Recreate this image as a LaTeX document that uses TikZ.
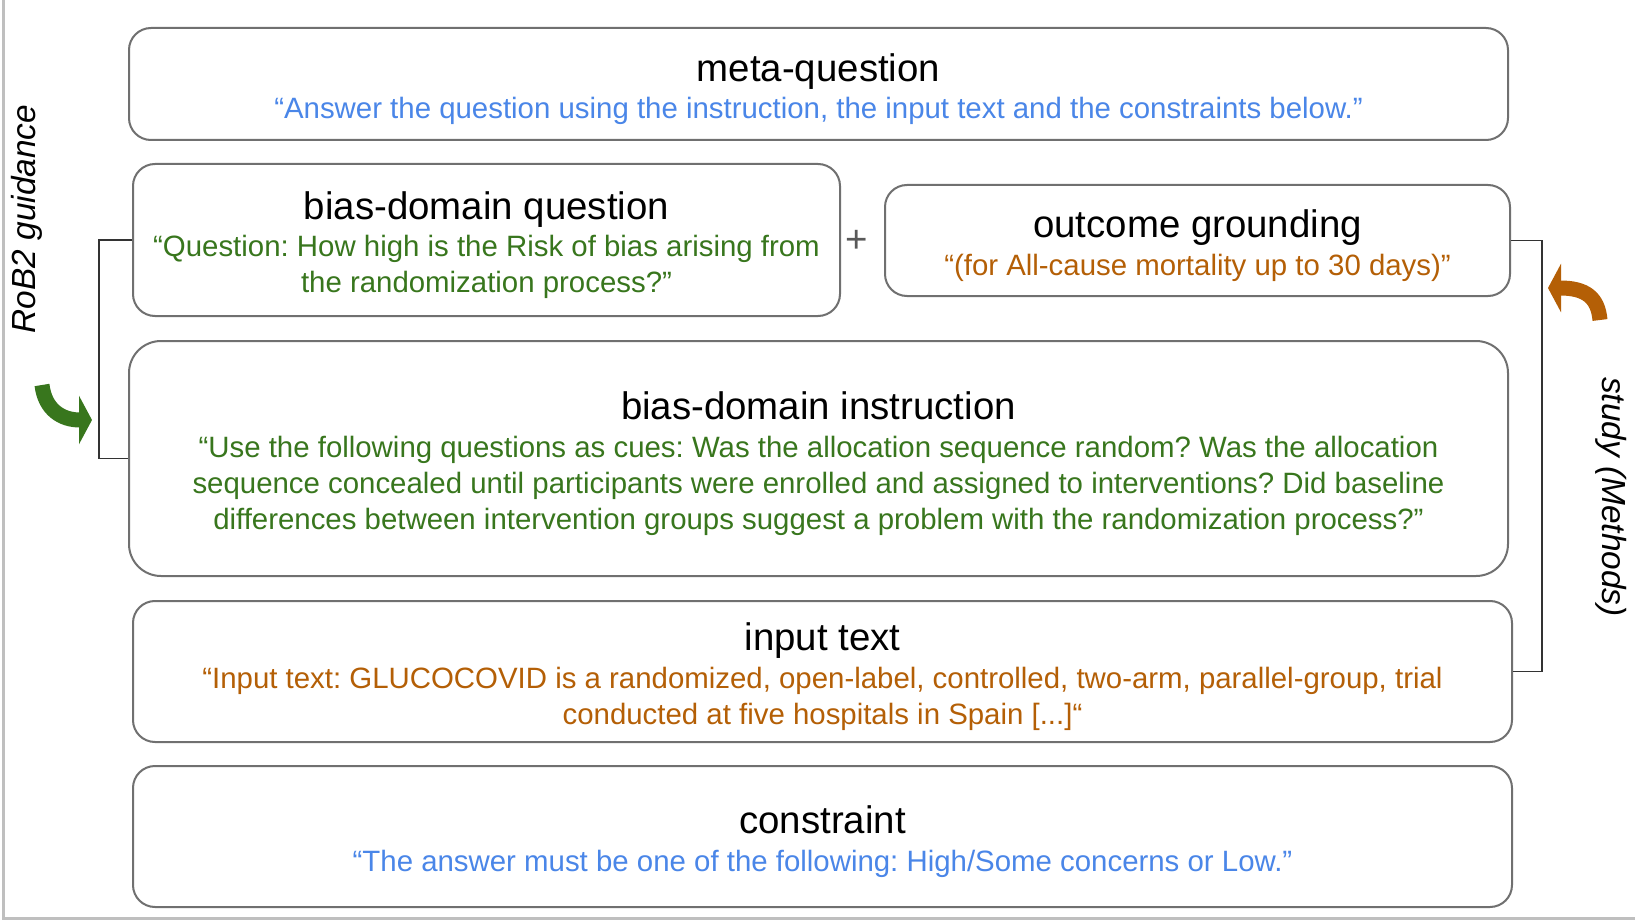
\documentclass[tikz,border=0pt]{standalone}
\usepackage{fontspec}
\setmainfont{Liberation Sans}
\usetikzlibrary{arrows.meta}

\definecolor{promptblue}{HTML}{4A86E8}
\definecolor{promptgreen}{HTML}{38761D}
\definecolor{promptorange}{HTML}{B45F06}
\definecolor{boxgray}{HTML}{707070}

% heading line of a prompt part
\newcommand{\parthead}[1]{{\color{black}\fontsize{19.2}{20}\selectfont\rule{0pt}{19pt}#1}\\[0.7pt]}

\begin{document}
\frenchspacing
\begin{tikzpicture}[x=0.5pt, y=-0.5pt, font=\fontsize{14.7}{18}\selectfont]
  \tikzset{
    promptbox/.style={draw=boxgray, line width=1pt, rounded corners=11pt,
      align=center, inner sep=0pt},
    bracket/.style={draw=black!80, line width=0.75pt},
    sidelabel/.style={font=\fontsize{16.7}{18}\selectfont\itshape},
    curlyarrow/.style={line width=7.5pt, -{Triangle[width=24pt, length=6.5pt]}}
  }

  % page and its frame
  \fill[white] (0,0) rectangle (1635,920);
  \useasboundingbox (0,0) rectangle (1635,920);
  \draw[black!25, line width=1.5pt] (3,0) -- (3,918) -- (1635,918);

  % prompt parts
  \node[promptbox, text=promptblue, minimum width=689.5pt, minimum height=56pt]
    (meta-question) at (818.5,84)
    {\parthead{meta-question}“Answer the question using the instruction, the input text and the constraints below.”};

  \node[promptbox, text=promptgreen, minimum width=353.5pt, minimum height=76pt]
    (bias-question) at (486.5,240)
    {\parthead{bias-domain question}“Question: How high is the Risk of bias arising from\\the randomization process?”};

  \node[font=\fontsize{19.2}{20}\selectfont, text=black!65] (plus) at (857,241) {+};

  \node[promptbox, text=promptorange, minimum width=312.5pt, minimum height=55.5pt]
    (outcome) at (1197.5,240.5)
    {\parthead{outcome grounding}“(for All-cause mortality up to 30 days)”};

  \node[promptbox, text=promptgreen, rounded corners=16pt, minimum width=689.5pt, minimum height=117.5pt]
    (bias-instruction) at (818.5,458.5)
    {\parthead{bias-domain instruction}“Use the following questions as cues: Was the allocation sequence random? Was the allocation\\
     sequence concealed until participants were enrolled and assigned to interventions? Did baseline\\
     differences between intervention groups suggest a problem with the randomization process?”};

  \node[promptbox, text=promptorange, minimum width=689.5pt, minimum height=70.5pt]
    (input-text) at (822.5,671.5)
    {\parthead{input text}“Input text: GLUCOCOVID is a randomized, open-label, controlled, two-arm, parallel-group, trial\\
     conducted at five hospitals in Spain [...]“};

  \node[promptbox, text=promptblue, minimum width=689.5pt, minimum height=70.5pt]
    (constraint) at (822.5,836.5)
    {\parthead{constraint}“The answer must be one of the following: High/Some concerns or Low.”};

  % sources on both sides
  \draw[bracket] (bias-question.west) -- ++(-33,0) |- (bias-instruction.west);
  \draw[bracket] (outcome.east) -- ++(31,0) |- (input-text.east);

  \node[sidelabel, rotate=90] (rob2-guidance) at (27,219) {RoB2 guidance};
  \node[sidelabel, rotate=-90] (study-methods) at (1611,497) {study (Methods)};

  \draw[curlyarrow, promptgreen] (42,385) .. controls (45,410) and (62,420) .. (92,420);
  \draw[curlyarrow, promptorange] (1600,320) .. controls (1598,297) and (1585,288) .. (1548,288);
\end{tikzpicture}
\end{document}
